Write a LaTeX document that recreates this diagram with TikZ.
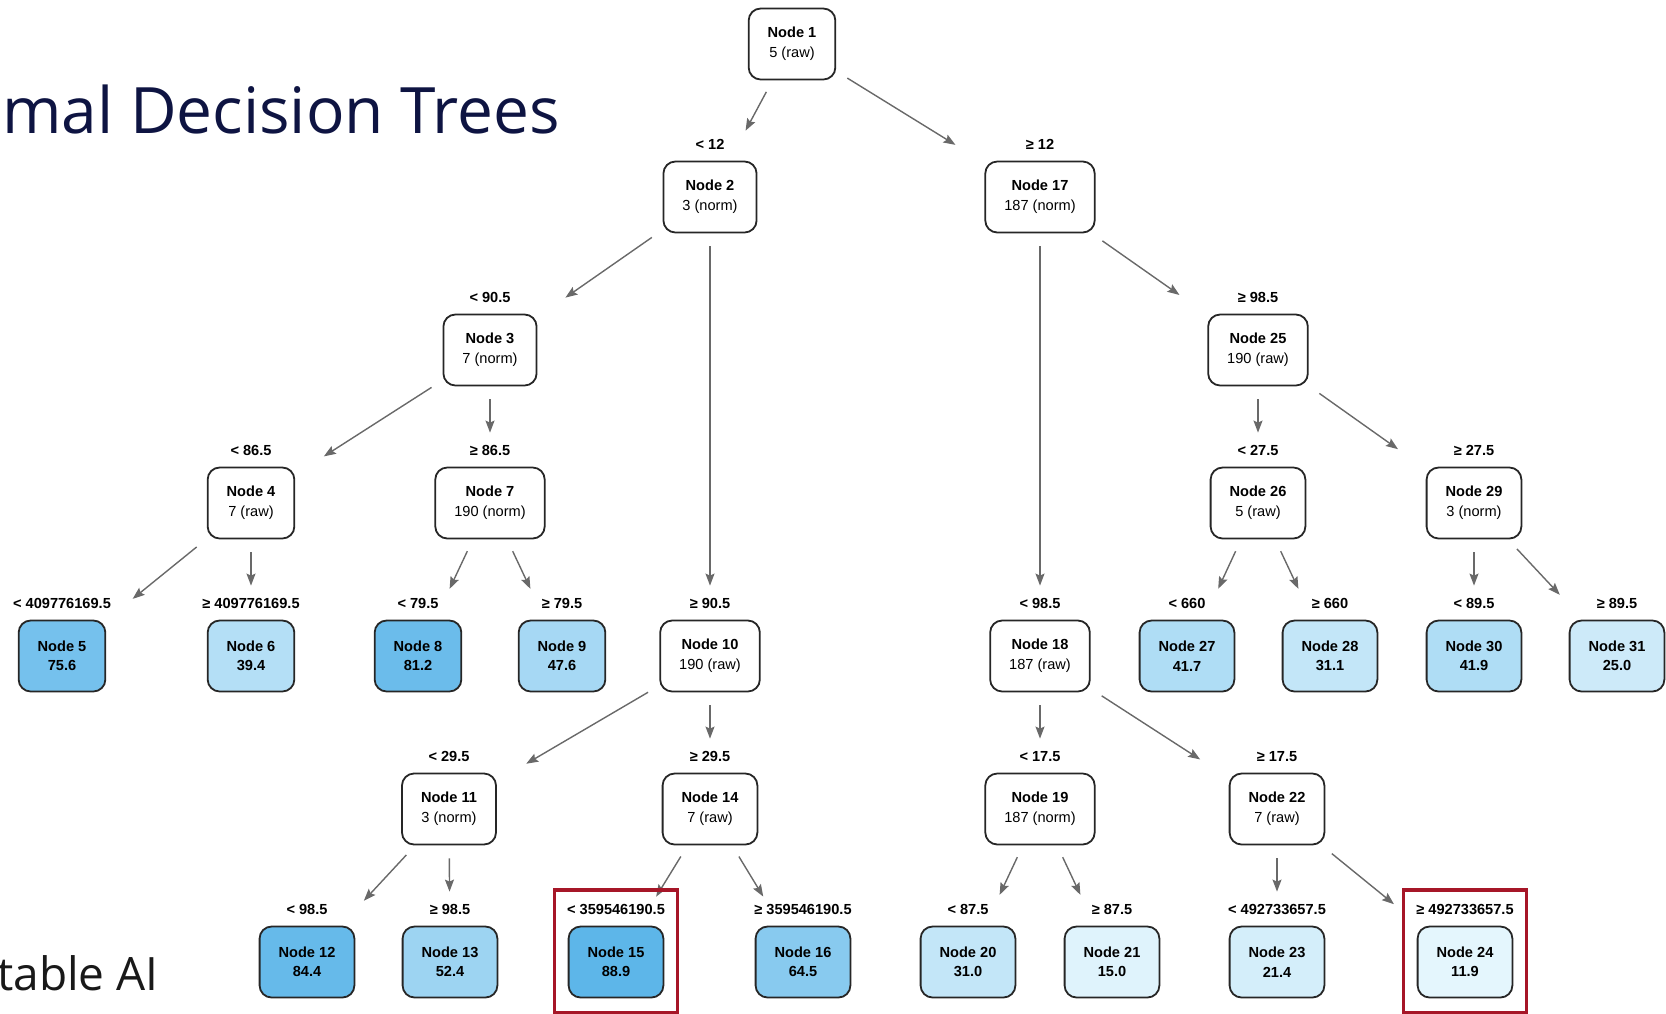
\documentclass[tikz,border=0pt]{standalone}
\usepackage{fontspec}
\setmainfont{Liberation Sans}
\newfontfamily\titlefont{Open Sans}
\usetikzlibrary{arrows.meta,positioning,fit}

\definecolor{boxline}{RGB}{38,38,38}
\definecolor{arrowgray}{RGB}{105,105,105}
\definecolor{leafhi}{RGB}{92,181,233}
\definecolor{leaflo}{RGB}{231,247,253}
\definecolor{navy}{RGB}{14,20,66}
\definecolor{hlred}{RGB}{166,22,40}

\begin{document}
\begin{tikzpicture}[
    x=1pt, y=-1pt,
    splitnode/.style={draw=boxline, line width=1.8pt, rounded corners=12pt, fill=white,
                      align=center, minimum height=71pt, inner xsep=19pt,
                      font=\fontsize{14.6}{20}\selectfont},
    leafnode/.style={splitnode, font=\fontsize{14.6}{19.5}\selectfont\bfseries},
    cutlbl/.style={font=\fontsize{14.6}{18}\selectfont\bfseries, inner sep=0pt, text depth=0pt},
    branch/.style={draw=arrowgray, line width=1.4pt, -{Stealth[length=12pt,width=9pt,inset=2pt]},
                   shorten <=13pt, shorten >=34pt},
    hlbox/.style={draw=hlred, line width=3.2pt, inner xsep=12.5pt, inner ysep=14pt},
    node distance=11pt,
]
\useasboundingbox (0,0) rectangle (1666,1013);

% --- slide text (cut at the left edge) ---
\node[anchor=base west, inner sep=0pt, text=navy, font=\titlefont\fontsize{64}{64}\selectfont]
     (title) at (2,133) {mal Decision Trees};
\node[anchor=base west, inner sep=0pt, text=black!90, font=\titlefont\fontsize{46}{46}\selectfont]
     (subtitle) at (-3,990) {table AI};

% --- split nodes ---
\node[splitnode] (n1)  at (792,44)   {\textbf{Node 1}\\5 (raw)};
\node[splitnode] (n2)  at (710,197)  {\textbf{Node 2}\\3 (norm)};
\node[splitnode] (n17) at (1040,197) {\textbf{Node 17}\\187 (norm)};
\node[splitnode] (n3)  at (490,350)  {\textbf{Node 3}\\7 (norm)};
\node[splitnode] (n25) at (1258,350) {\textbf{Node 25}\\190 (raw)};
\node[splitnode] (n4)  at (251,503)  {\textbf{Node 4}\\7 (raw)};
\node[splitnode] (n7)  at (490,503)  {\textbf{Node 7}\\190 (norm)};
\node[splitnode] (n26) at (1258,503) {\textbf{Node 26}\\5 (raw)};
\node[splitnode] (n29) at (1474,503) {\textbf{Node 29}\\3 (norm)};
\node[splitnode] (n10) at (710,656)  {\textbf{Node 10}\\190 (raw)};
\node[splitnode] (n18) at (1040,656) {\textbf{Node 18}\\187 (raw)};
\node[splitnode] (n11) at (449,809)  {\textbf{Node 11}\\3 (norm)};
\node[splitnode] (n14) at (710,809)  {\textbf{Node 14}\\7 (raw)};
\node[splitnode] (n19) at (1040,809) {\textbf{Node 19}\\187 (norm)};
\node[splitnode] (n22) at (1277,809) {\textbf{Node 22}\\7 (raw)};

% --- leaves, shaded by value ---
\node[leafnode, fill=leafhi!82!leaflo] (n5)  at (62,656)   {Node 5\\75.6};
\node[leafnode, fill=leafhi!37!leaflo] (n6)  at (251,656)  {Node 6\\39.4};
\node[leafnode, fill=leafhi!89!leaflo] (n8)  at (418,656)  {Node 8\\81.2};
\node[leafnode, fill=leafhi!47!leaflo] (n9)  at (562,656)  {Node 9\\47.6};
\node[leafnode, fill=leafhi!40!leaflo] (n27) at (1187,656) {Node 27\\41.7};
\node[leafnode, fill=leafhi!26!leaflo] (n28) at (1330,656) {Node 28\\31.1};
\node[leafnode, fill=leafhi!40!leaflo] (n30) at (1474,656) {Node 30\\41.9};
\node[leafnode, fill=leafhi!19!leaflo] (n31) at (1617,656) {Node 31\\25.0};
\node[leafnode, fill=leafhi!93!leaflo] (n12) at (307,962)  {Node 12\\84.4};
\node[leafnode, fill=leafhi!53!leaflo] (n13) at (450,962)  {Node 13\\52.4};
\node[leafnode, fill=leafhi!99!leaflo] (n15) at (616,962)  {Node 15\\88.9};
\node[leafnode, fill=leafhi!68!leaflo] (n16) at (803,962)  {Node 16\\64.5};
\node[leafnode, fill=leafhi!26!leaflo] (n20) at (968,962)  {Node 20\\31.0};
\node[leafnode, fill=leafhi!6!leaflo]  (n21) at (1112,962) {Node 21\\15.0};
\node[leafnode, fill=leafhi!14!leaflo] (n23) at (1277,962) {Node 23\\21.4};
\node[leafnode, fill=leafhi!2!leaflo]  (n24) at (1465,962) {Node 24\\11.9};

% --- split conditions above each child ---
\node[cutlbl, above=of n2]  (c2)  {< 12};
\node[cutlbl, above=of n17] (c17) {≥ 12};
\node[cutlbl, above=of n3]  (c3)  {< 90.5};
\node[cutlbl, above=of n10] (c10) {≥ 90.5};
\node[cutlbl, above=of n4]  (c4)  {< 86.5};
\node[cutlbl, above=of n7]  (c7)  {≥ 86.5};
\node[cutlbl, above=of n5]  (c5)  {< 409776169.5};
\node[cutlbl, above=of n6]  (c6)  {≥ 409776169.5};
\node[cutlbl, above=of n8]  (c8)  {< 79.5};
\node[cutlbl, above=of n9]  (c9)  {≥ 79.5};
\node[cutlbl, above=of n11] (c11) {< 29.5};
\node[cutlbl, above=of n14] (c14) {≥ 29.5};
\node[cutlbl, above=of n12] (c12) {< 98.5};
\node[cutlbl, above=of n13] (c13) {≥ 98.5};
\node[cutlbl, above=of n15] (c15) {< 359546190.5};
\node[cutlbl, above=of n16] (c16) {≥ 359546190.5};
\node[cutlbl, above=of n18] (c18) {< 98.5};
\node[cutlbl, above=of n25] (c25) {≥ 98.5};
\node[cutlbl, above=of n19] (c19) {< 17.5};
\node[cutlbl, above=of n22] (c22) {≥ 17.5};
\node[cutlbl, above=of n20] (c20) {< 87.5};
\node[cutlbl, above=of n21] (c21) {≥ 87.5};
\node[cutlbl, above=of n23] (c23) {< 492733657.5};
\node[cutlbl, above=of n24] (c24) {≥ 492733657.5};
\node[cutlbl, above=of n26] (c26) {< 27.5};
\node[cutlbl, above=of n29] (c29) {≥ 27.5};
\node[cutlbl, above=of n27] (c27) {< 660};
\node[cutlbl, above=of n28] (c28) {≥ 660};
\node[cutlbl, above=of n30] (c30) {< 89.5};
\node[cutlbl, above=of n31] (c31) {≥ 89.5};

% --- branches ---
\draw[branch] (n1) -- (n2);   \draw[branch] (n1) -- (n17);
\draw[branch] (n2) -- (n3);   \draw[branch] (n2) -- (n10);
\draw[branch] (n3) -- (n4);   \draw[branch] (n3) -- (n7);
\draw[branch] (n4) -- (n5);   \draw[branch] (n4) -- (n6);
\draw[branch] (n7) -- (n8);   \draw[branch] (n7) -- (n9);
\draw[branch] (n10) -- (n11); \draw[branch] (n10) -- (n14);
\draw[branch] (n11) -- (n12); \draw[branch] (n11) -- (n13);
\draw[branch] (n14) -- (n15); \draw[branch] (n14) -- (n16);
\draw[branch] (n17) -- (n18); \draw[branch] (n17) -- (n25);
\draw[branch] (n18) -- (n19); \draw[branch] (n18) -- (n22);
\draw[branch] (n19) -- (n20); \draw[branch] (n19) -- (n21);
\draw[branch] (n22) -- (n23); \draw[branch] (n22) -- (n24);
\draw[branch] (n25) -- (n26); \draw[branch] (n25) -- (n29);
\draw[branch] (n26) -- (n27); \draw[branch] (n26) -- (n28);
\draw[branch] (n29) -- (n30); \draw[branch] (n29) -- (n31);

% --- highlighted leaves ---
\node[hlbox, fit=(c15)(n15)] (hl15) {};
\node[hlbox, fit=(c24)(n24)] (hl24) {};

\end{tikzpicture}
\end{document}
